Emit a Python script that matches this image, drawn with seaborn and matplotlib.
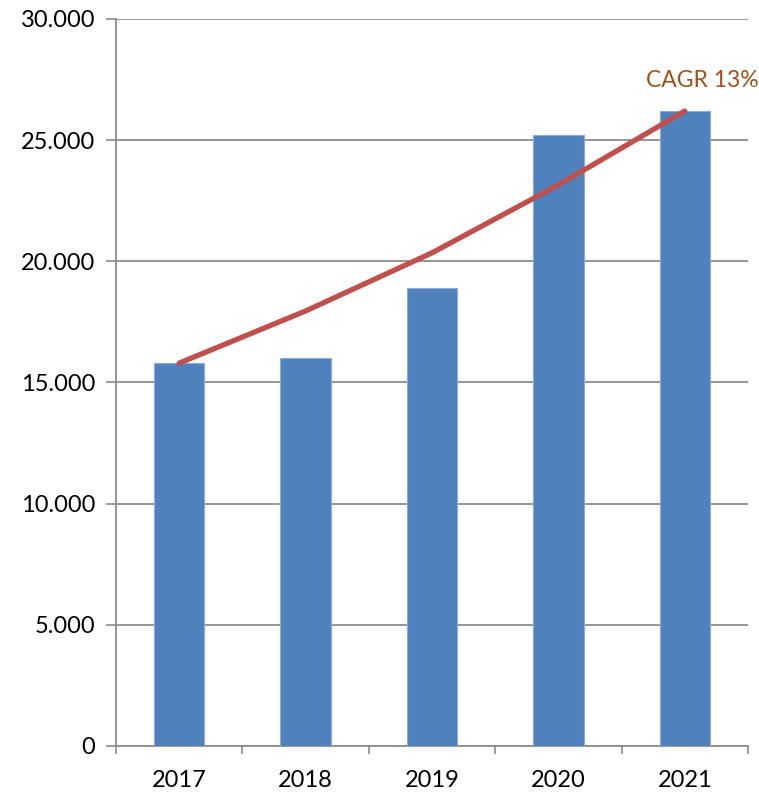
import numpy as np
import pandas as pd
import matplotlib
matplotlib.use("Agg")
import matplotlib.pyplot as plt
import seaborn as sns
from matplotlib.ticker import FuncFormatter, FixedLocator

years = ["2017", "2018", "2019", "2020", "2021"]
values = [15800, 16000, 18900, 25200, 26200]
trend = [15800, 17950, 20350, 23150, 26200]
yticks = [0, 5000, 10000, 15000, 20000, 25000, 30000]
annotation = "CAGR 13%"

sns.set_style("white")
plt.rcParams["font.family"] = ["Lato", "DejaVu Sans"]

fig = plt.figure(figsize=(7.59, 7.92), dpi=100)
ax = fig.add_axes([116/759, 1-746/792, (748-116)/759, (746-19)/792])

df = pd.DataFrame({"year": years, "value": values})
sns.barplot(data=df, x="year", y="value", ax=ax, color="#4F81BD",
            saturation=1, width=0.4, edgecolor="#8EAADB", linewidth=0.8, zorder=3)
sns.lineplot(x=np.arange(len(years)), y=trend, ax=ax, color="#C0504D",
             linewidth=3.8, solid_capstyle="round", zorder=4)

ax.set_xlim(-0.5, 4.5)
ax.set_ylim(0, 30000)
ax.set_yticks(yticks)
ax.yaxis.set_major_formatter(FuncFormatter(lambda v, p: f"{v:,.0f}".replace(",", ".")))
ax.grid(axis="y", color="#8C8C8C", linewidth=1.3, zorder=0)
ax.set_axisbelow(True)

ax.set_xticks(range(len(years)))
ax.set_xticklabels(years)
ax.xaxis.set_minor_locator(FixedLocator(np.arange(-0.5, 5, 1)))
ax.tick_params(axis="x", which="major", length=0, pad=17, labelsize=17, colors="black")
ax.tick_params(axis="x", which="minor", length=6, width=1.2, color="#8C8C8C", direction="out")
ax.tick_params(axis="y", length=7, width=1.2, color="#8C8C8C", direction="out",
               labelsize=17, pad=8)
ax.tick_params(axis="both", labelcolor="black")
ax.xaxis.set_ticks_position("bottom")
ax.yaxis.set_ticks_position("left")

for s in ["top", "right"]:
    ax.spines[s].set_visible(False)
for s in ["left", "bottom"]:
    ax.spines[s].set_color("#8C8C8C")
    ax.spines[s].set_linewidth(1.3)

ax.set_xlabel("")
ax.set_ylabel("")

ax.text(4.14, 27450, annotation, color="#A0501A", fontsize=16.5, ha="center", va="center")

fig.savefig("out.png", dpi=100)
